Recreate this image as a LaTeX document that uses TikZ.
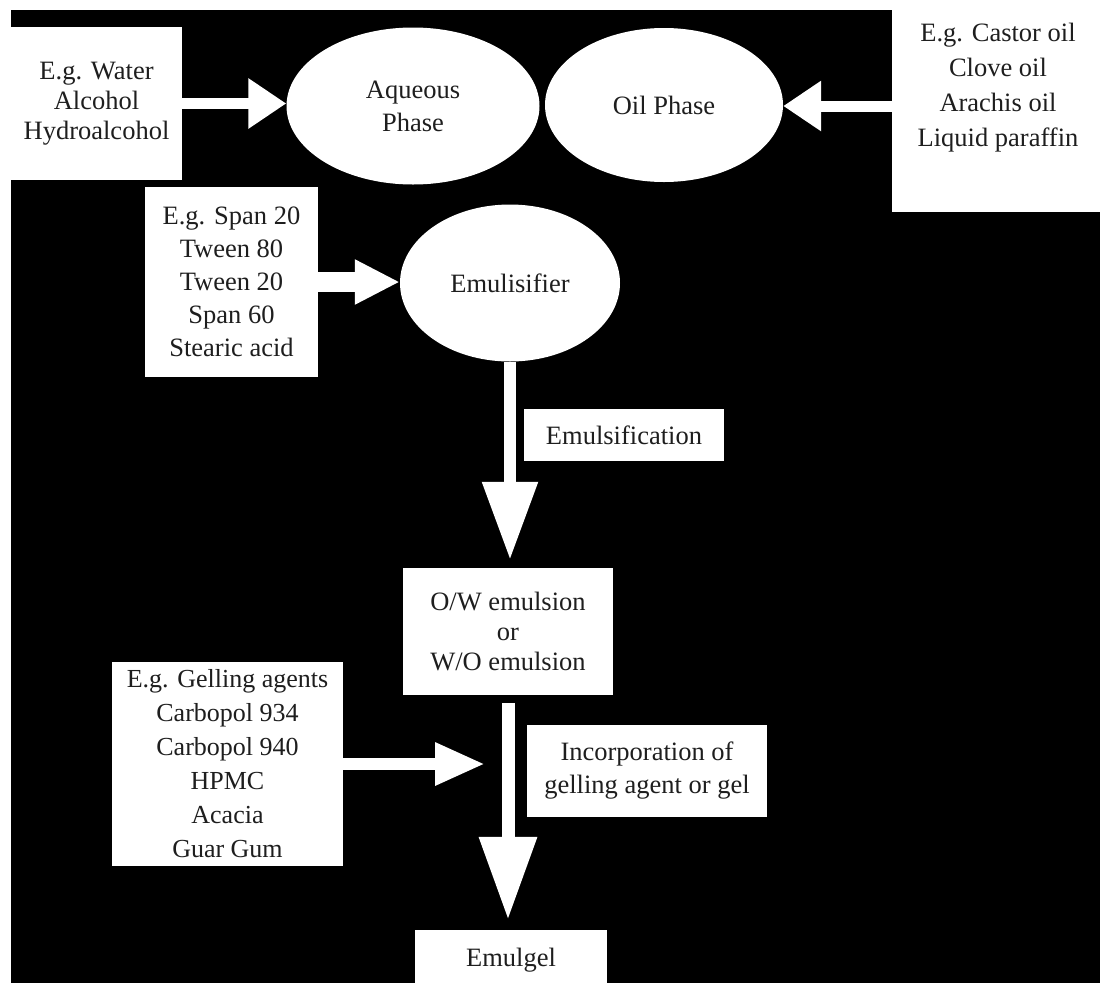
\documentclass[tikz,border=0pt]{standalone}
\usepackage{fontspec}
\setmainfont{Liberation Serif}
\usetikzlibrary{arrows.meta,shapes.geometric}
\definecolor{ink}{HTML}{1E1E1E}
\definecolor{paper}{HTML}{FFFFFF}
\definecolor{night}{HTML}{000000}
\newcommand{\labelfont}{\fontsize{26.5}{33}\selectfont}
\newcommand{\tightfont}{\fontsize{26.5}{30}\selectfont}
\tikzset{
  panel/.style={rectangle,fill=paper,draw=none,inner sep=0pt,align=center,text=ink,font=\labelfont},
  phase/.style={ellipse,fill=paper,draw=none,inner sep=0pt,align=center,text=ink,font=\labelfont},
  blockarr/.style n args={3}{draw=paper,line width=#1,-{Triangle[length=#2,width=#3]}}
}

\begin{document}
\begin{tikzpicture}[x=1pt,y=-1pt]
  \useasboundingbox (0,0) rectangle (1100,983);
  \fill[paper] (0,0) rectangle (1100,983);
  \fill[night] (11,10) rectangle (1100,983);
  % phases
  \node[panel,minimum width=171pt,minimum height=153pt,font=\tightfont] (water) at (96.5,103.5)
    {E.g. Water\\Alcohol\\Hydroalcohol};
  \node[phase,minimum width=253pt,minimum height=157pt] (aqueous) at (413,106) {Aqueous\\Phase};
  \node[phase,minimum width=238pt,minimum height=154pt] (oil) at (664,105) {Oil Phase};
  \node[panel,minimum width=208pt,minimum height=212pt] (castor) at (996,106) {};
  \node[text=ink,align=center,inner sep=0pt,font=\fontsize{26.5}{35}\selectfont] (castortext) at (998,88)
    {E.g. Castor oil\\Clove oil\\Arachis oil\\Liquid paraffin};
  % emulsifier
  \node[panel,minimum width=173pt,minimum height=190pt] (span) at (231.5,282)
    {E.g. Span 20\\Tween 80\\Tween 20\\Span 60\\Stearic acid};
  \node[phase,minimum width=220pt,minimum height=157pt] (emulsifier) at (510,283) {Emulisifier};
  \node[panel,minimum width=200pt,minimum height=52pt] (emulsification) at (624,435) {Emulsification};
  \node[panel,minimum width=210pt,minimum height=127pt,font=\tightfont] (emulsion) at (508,631.5)
    {O/W emulsion\\or\\W/O emulsion};
  % gel
  \node[panel,minimum width=231pt,minimum height=204pt,font=\fontsize{26}{34}\selectfont] (gelling) at (227.5,764)
    {E.g. Gelling agents\\Carbopol 934\\Carbopol 940\\HPMC\\Acacia\\Guar Gum};
  \node[panel,minimum width=240pt,minimum height=92pt] (incorporation) at (647,771)
    {Incorporation of\\gelling agent or gel};
  \node[panel,minimum width=192pt,minimum height=60pt] (emulgel) at (511,960) {Emulgel};
  % arrows
  \draw[blockarr={11pt}{38pt}{48pt}] (water.east) -- (water.east -| aqueous.west);
  \draw[blockarr={11pt}{38pt}{48pt}] (castor.west) -- (castor.west -| oil.east);
  \draw[blockarr={20pt}{45pt}{42pt}] (span.east) -- (span.east -| emulsifier.west);
  \draw[blockarr={12pt}{78pt}{53pt},shorten >=8pt] (emulsifier.south) -- (emulsifier.south |- emulsion.north);
  \draw[blockarr={13pt}{83pt}{55pt},shorten <=8pt,shorten >=10pt] (emulsion.south) -- (emulsion.south |- emulgel.north);
  \draw[blockarr={12pt}{50pt}{40pt},shorten >=23pt] (gelling.east) -- (gelling.east -| emulsion.south);
\end{tikzpicture}
\end{document}
